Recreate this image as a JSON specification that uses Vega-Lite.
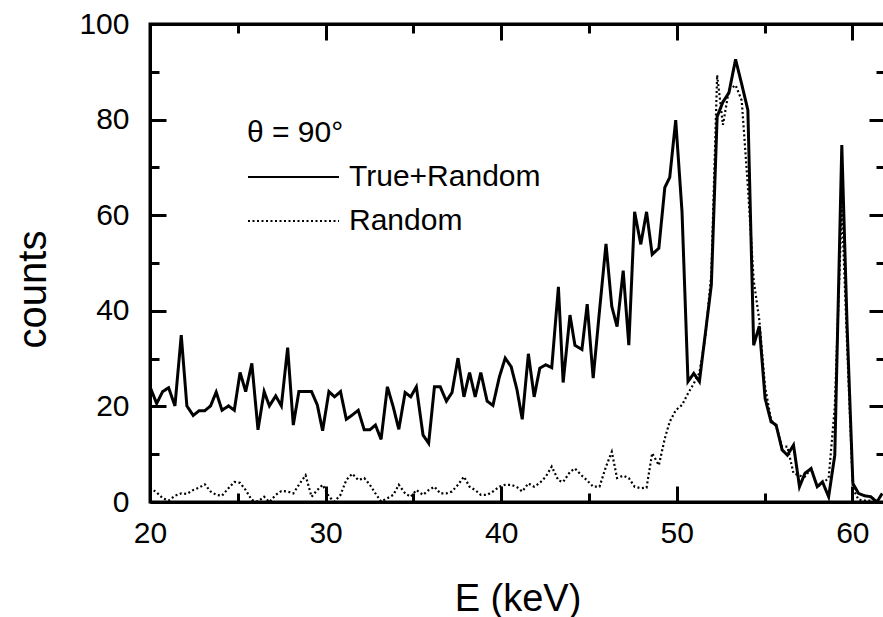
{
  "$schema": "https://vega.github.io/schema/vega-lite/v6.json",
  "autosize": "none",
  "width": 735,
  "height": 478,
  "padding": {"left": 150, "top": 24, "right": 0, "bottom": 115},
  "background": "white",
  "config": {
    "font": "Liberation Sans",
    "view": {"stroke": "#000000", "strokeWidth": 3},
    "axis": {
      "labelColor": "#000000",
      "labelFont": "Liberation Sans",
      "labelFontSize": 30,
      "labelFlush": false,
      "labelOverlap": false,
      "titleColor": "#000000",
      "titleFont": "Liberation Sans",
      "titleFontSize": 38,
      "titleFontWeight": "normal",
      "grid": false
    }
  },
  "data": {
    "values": [
      {"E": 20.0, "counts": 24.1, "series": "True+Random"},
      {"E": 20.38, "counts": 20.6, "series": "True+Random"},
      {"E": 20.72, "counts": 23.1, "series": "True+Random"},
      {"E": 21.06, "counts": 23.9, "series": "True+Random"},
      {"E": 21.42, "counts": 20.1, "series": "True+Random"},
      {"E": 21.78, "counts": 34.9, "series": "True+Random"},
      {"E": 22.1, "counts": 20.1, "series": "True+Random"},
      {"E": 22.46, "counts": 18.1, "series": "True+Random"},
      {"E": 22.8, "counts": 19.1, "series": "True+Random"},
      {"E": 23.12, "counts": 19.1, "series": "True+Random"},
      {"E": 23.45, "counts": 20.1, "series": "True+Random"},
      {"E": 23.77, "counts": 23.0, "series": "True+Random"},
      {"E": 24.1, "counts": 19.2, "series": "True+Random"},
      {"E": 24.47, "counts": 20.1, "series": "True+Random"},
      {"E": 24.8, "counts": 19.2, "series": "True+Random"},
      {"E": 25.13, "counts": 27.1, "series": "True+Random"},
      {"E": 25.45, "counts": 23.1, "series": "True+Random"},
      {"E": 25.8, "counts": 29.0, "series": "True+Random"},
      {"E": 26.15, "counts": 15.1, "series": "True+Random"},
      {"E": 26.5, "counts": 23.1, "series": "True+Random"},
      {"E": 26.8, "counts": 20.1, "series": "True+Random"},
      {"E": 27.16, "counts": 22.2, "series": "True+Random"},
      {"E": 27.48, "counts": 20.1, "series": "True+Random"},
      {"E": 27.84, "counts": 32.3, "series": "True+Random"},
      {"E": 28.16, "counts": 16.1, "series": "True+Random"},
      {"E": 28.48, "counts": 23.1, "series": "True+Random"},
      {"E": 28.86, "counts": 23.1, "series": "True+Random"},
      {"E": 29.2, "counts": 23.1, "series": "True+Random"},
      {"E": 29.53, "counts": 20.3, "series": "True+Random"},
      {"E": 29.83, "counts": 14.9, "series": "True+Random"},
      {"E": 30.19, "counts": 23.1, "series": "True+Random"},
      {"E": 30.51, "counts": 22.0, "series": "True+Random"},
      {"E": 30.85, "counts": 23.1, "series": "True+Random"},
      {"E": 31.18, "counts": 17.3, "series": "True+Random"},
      {"E": 31.52, "counts": 18.2, "series": "True+Random"},
      {"E": 31.86, "counts": 19.2, "series": "True+Random"},
      {"E": 32.2, "counts": 15.1, "series": "True+Random"},
      {"E": 32.52, "counts": 15.1, "series": "True+Random"},
      {"E": 32.84, "counts": 16.1, "series": "True+Random"},
      {"E": 33.16, "counts": 13.1, "series": "True+Random"},
      {"E": 33.52, "counts": 24.1, "series": "True+Random"},
      {"E": 33.86, "counts": 19.8, "series": "True+Random"},
      {"E": 34.17, "counts": 15.2, "series": "True+Random"},
      {"E": 34.53, "counts": 22.9, "series": "True+Random"},
      {"E": 34.85, "counts": 22.0, "series": "True+Random"},
      {"E": 35.17, "counts": 24.1, "series": "True+Random"},
      {"E": 35.55, "counts": 14.0, "series": "True+Random"},
      {"E": 35.87, "counts": 12.3, "series": "True+Random"},
      {"E": 36.2, "counts": 24.1, "series": "True+Random"},
      {"E": 36.53, "counts": 24.1, "series": "True+Random"},
      {"E": 36.88, "counts": 21.1, "series": "True+Random"},
      {"E": 37.2, "counts": 22.9, "series": "True+Random"},
      {"E": 37.54, "counts": 30.1, "series": "True+Random"},
      {"E": 37.88, "counts": 22.0, "series": "True+Random"},
      {"E": 38.2, "counts": 27.1, "series": "True+Random"},
      {"E": 38.52, "counts": 22.0, "series": "True+Random"},
      {"E": 38.84, "counts": 27.1, "series": "True+Random"},
      {"E": 39.2, "counts": 21.1, "series": "True+Random"},
      {"E": 39.53, "counts": 20.2, "series": "True+Random"},
      {"E": 39.9, "counts": 26.2, "series": "True+Random"},
      {"E": 40.23, "counts": 30.1, "series": "True+Random"},
      {"E": 40.57, "counts": 28.3, "series": "True+Random"},
      {"E": 40.9, "counts": 23.5, "series": "True+Random"},
      {"E": 41.2, "counts": 17.3, "series": "True+Random"},
      {"E": 41.55, "counts": 31.0, "series": "True+Random"},
      {"E": 41.88, "counts": 22.0, "series": "True+Random"},
      {"E": 42.2, "counts": 28.0, "series": "True+Random"},
      {"E": 42.54, "counts": 28.7, "series": "True+Random"},
      {"E": 42.88, "counts": 28.1, "series": "True+Random"},
      {"E": 43.26, "counts": 45.0, "series": "True+Random"},
      {"E": 43.53, "counts": 25.0, "series": "True+Random"},
      {"E": 43.92, "counts": 39.1, "series": "True+Random"},
      {"E": 44.2, "counts": 32.8, "series": "True+Random"},
      {"E": 44.6, "counts": 31.9, "series": "True+Random"},
      {"E": 44.9, "counts": 41.4, "series": "True+Random"},
      {"E": 45.24, "counts": 25.9, "series": "True+Random"},
      {"E": 45.6, "counts": 40.0, "series": "True+Random"},
      {"E": 45.97, "counts": 54.0, "series": "True+Random"},
      {"E": 46.3, "counts": 40.9, "series": "True+Random"},
      {"E": 46.6, "counts": 36.7, "series": "True+Random"},
      {"E": 46.95, "counts": 48.4, "series": "True+Random"},
      {"E": 47.27, "counts": 32.8, "series": "True+Random"},
      {"E": 47.6, "counts": 60.7, "series": "True+Random"},
      {"E": 47.95, "counts": 53.9, "series": "True+Random"},
      {"E": 48.28, "counts": 60.7, "series": "True+Random"},
      {"E": 48.6, "counts": 51.8, "series": "True+Random"},
      {"E": 48.98, "counts": 53.1, "series": "True+Random"},
      {"E": 49.32, "counts": 65.8, "series": "True+Random"},
      {"E": 49.6, "counts": 67.9, "series": "True+Random"},
      {"E": 49.94, "counts": 79.9, "series": "True+Random"},
      {"E": 50.3, "counts": 60.7, "series": "True+Random"},
      {"E": 50.64, "counts": 25.2, "series": "True+Random"},
      {"E": 50.97, "counts": 26.9, "series": "True+Random"},
      {"E": 51.29, "counts": 25.2, "series": "True+Random"},
      {"E": 51.63, "counts": 35.3, "series": "True+Random"},
      {"E": 51.97, "counts": 45.4, "series": "True+Random"},
      {"E": 52.3, "counts": 80.6, "series": "True+Random"},
      {"E": 52.63, "counts": 83.7, "series": "True+Random"},
      {"E": 52.97, "counts": 85.6, "series": "True+Random"},
      {"E": 53.35, "counts": 92.6, "series": "True+Random"},
      {"E": 53.7, "counts": 87.4, "series": "True+Random"},
      {"E": 54.05, "counts": 82.0, "series": "True+Random"},
      {"E": 54.38, "counts": 32.8, "series": "True+Random"},
      {"E": 54.7, "counts": 36.8, "series": "True+Random"},
      {"E": 55.03, "counts": 21.7, "series": "True+Random"},
      {"E": 55.37, "counts": 16.8, "series": "True+Random"},
      {"E": 55.66, "counts": 16.1, "series": "True+Random"},
      {"E": 56.0, "counts": 10.9, "series": "True+Random"},
      {"E": 56.3, "counts": 9.8, "series": "True+Random"},
      {"E": 56.65, "counts": 11.9, "series": "True+Random"},
      {"E": 56.99, "counts": 3.2, "series": "True+Random"},
      {"E": 57.3, "counts": 6.0, "series": "True+Random"},
      {"E": 57.65, "counts": 7.0, "series": "True+Random"},
      {"E": 58.0, "counts": 3.2, "series": "True+Random"},
      {"E": 58.3, "counts": 4.2, "series": "True+Random"},
      {"E": 58.65, "counts": 1.1, "series": "True+Random"},
      {"E": 59.0, "counts": 9.8, "series": "True+Random"},
      {"E": 59.4, "counts": 74.7, "series": "True+Random"},
      {"E": 59.7, "counts": 37.0, "series": "True+Random"},
      {"E": 60.03, "counts": 3.9, "series": "True+Random"},
      {"E": 60.35, "counts": 1.8, "series": "True+Random"},
      {"E": 60.7, "counts": 1.3, "series": "True+Random"},
      {"E": 61.05, "counts": 1.1, "series": "True+Random"},
      {"E": 61.4, "counts": 0.0, "series": "True+Random"},
      {"E": 61.7, "counts": 1.8, "series": "True+Random"},
      {"E": 20.0, "counts": 3.0, "series": "Random"},
      {"E": 20.38, "counts": 2.0, "series": "Random"},
      {"E": 20.72, "counts": 0.8, "series": "Random"},
      {"E": 21.06, "counts": 0.3, "series": "Random"},
      {"E": 21.42, "counts": 1.3, "series": "Random"},
      {"E": 21.78, "counts": 1.8, "series": "Random"},
      {"E": 22.1, "counts": 1.7, "series": "Random"},
      {"E": 22.46, "counts": 2.5, "series": "Random"},
      {"E": 22.8, "counts": 3.0, "series": "Random"},
      {"E": 23.12, "counts": 3.7, "series": "Random"},
      {"E": 23.45, "counts": 2.2, "series": "Random"},
      {"E": 23.77, "counts": 1.5, "series": "Random"},
      {"E": 24.1, "counts": 1.3, "series": "Random"},
      {"E": 24.47, "counts": 2.9, "series": "Random"},
      {"E": 24.8, "counts": 4.2, "series": "Random"},
      {"E": 25.13, "counts": 4.0, "series": "Random"},
      {"E": 25.45, "counts": 2.5, "series": "Random"},
      {"E": 25.8, "counts": 0.4, "series": "Random"},
      {"E": 26.15, "counts": 0.1, "series": "Random"},
      {"E": 26.5, "counts": 1.1, "series": "Random"},
      {"E": 26.8, "counts": 0.0, "series": "Random"},
      {"E": 27.16, "counts": 1.5, "series": "Random"},
      {"E": 27.48, "counts": 2.3, "series": "Random"},
      {"E": 27.84, "counts": 2.2, "series": "Random"},
      {"E": 28.16, "counts": 1.8, "series": "Random"},
      {"E": 28.48, "counts": 3.6, "series": "Random"},
      {"E": 28.86, "counts": 5.6, "series": "Random"},
      {"E": 29.2, "counts": 1.1, "series": "Random"},
      {"E": 29.53, "counts": 2.5, "series": "Random"},
      {"E": 29.83, "counts": 3.6, "series": "Random"},
      {"E": 30.19, "counts": 1.1, "series": "Random"},
      {"E": 30.51, "counts": 0.1, "series": "Random"},
      {"E": 30.85, "counts": 1.5, "series": "Random"},
      {"E": 31.18, "counts": 4.6, "series": "Random"},
      {"E": 31.52, "counts": 5.9, "series": "Random"},
      {"E": 31.86, "counts": 4.6, "series": "Random"},
      {"E": 32.2, "counts": 5.0, "series": "Random"},
      {"E": 32.52, "counts": 3.6, "series": "Random"},
      {"E": 32.84, "counts": 1.8, "series": "Random"},
      {"E": 33.16, "counts": 0.1, "series": "Random"},
      {"E": 33.52, "counts": 0.8, "series": "Random"},
      {"E": 33.86, "counts": 1.5, "series": "Random"},
      {"E": 34.17, "counts": 3.6, "series": "Random"},
      {"E": 34.53, "counts": 1.8, "series": "Random"},
      {"E": 34.85, "counts": 1.1, "series": "Random"},
      {"E": 35.17, "counts": 2.5, "series": "Random"},
      {"E": 35.55, "counts": 1.5, "series": "Random"},
      {"E": 35.87, "counts": 2.5, "series": "Random"},
      {"E": 36.2, "counts": 3.2, "series": "Random"},
      {"E": 36.53, "counts": 1.8, "series": "Random"},
      {"E": 36.88, "counts": 1.8, "series": "Random"},
      {"E": 37.2, "counts": 2.2, "series": "Random"},
      {"E": 37.54, "counts": 3.6, "series": "Random"},
      {"E": 37.88, "counts": 5.3, "series": "Random"},
      {"E": 38.2, "counts": 3.2, "series": "Random"},
      {"E": 38.52, "counts": 2.5, "series": "Random"},
      {"E": 38.84, "counts": 1.5, "series": "Random"},
      {"E": 39.2, "counts": 1.5, "series": "Random"},
      {"E": 39.53, "counts": 2.2, "series": "Random"},
      {"E": 39.9, "counts": 3.2, "series": "Random"},
      {"E": 40.23, "counts": 3.6, "series": "Random"},
      {"E": 40.57, "counts": 3.6, "series": "Random"},
      {"E": 40.9, "counts": 3.1, "series": "Random"},
      {"E": 41.2, "counts": 2.2, "series": "Random"},
      {"E": 41.55, "counts": 3.9, "series": "Random"},
      {"E": 41.88, "counts": 3.2, "series": "Random"},
      {"E": 42.2, "counts": 4.0, "series": "Random"},
      {"E": 42.54, "counts": 5.3, "series": "Random"},
      {"E": 42.88, "counts": 7.4, "series": "Random"},
      {"E": 43.26, "counts": 4.5, "series": "Random"},
      {"E": 43.53, "counts": 4.2, "series": "Random"},
      {"E": 43.92, "counts": 6.3, "series": "Random"},
      {"E": 44.2, "counts": 7.0, "series": "Random"},
      {"E": 44.6, "counts": 5.5, "series": "Random"},
      {"E": 44.9, "counts": 4.5, "series": "Random"},
      {"E": 45.24, "counts": 3.2, "series": "Random"},
      {"E": 45.6, "counts": 3.2, "series": "Random"},
      {"E": 45.97, "counts": 7.4, "series": "Random"},
      {"E": 46.3, "counts": 10.5, "series": "Random"},
      {"E": 46.6, "counts": 5.0, "series": "Random"},
      {"E": 46.95, "counts": 5.5, "series": "Random"},
      {"E": 47.27, "counts": 5.0, "series": "Random"},
      {"E": 47.6, "counts": 3.2, "series": "Random"},
      {"E": 47.95, "counts": 2.9, "series": "Random"},
      {"E": 48.28, "counts": 3.0, "series": "Random"},
      {"E": 48.6, "counts": 10.2, "series": "Random"},
      {"E": 48.98, "counts": 7.7, "series": "Random"},
      {"E": 49.32, "counts": 13.3, "series": "Random"},
      {"E": 49.6, "counts": 16.8, "series": "Random"},
      {"E": 49.94, "counts": 19.2, "series": "Random"},
      {"E": 50.3, "counts": 20.3, "series": "Random"},
      {"E": 50.64, "counts": 22.7, "series": "Random"},
      {"E": 50.97, "counts": 24.8, "series": "Random"},
      {"E": 51.29, "counts": 27.0, "series": "Random"},
      {"E": 51.63, "counts": 34.6, "series": "Random"},
      {"E": 51.97, "counts": 47.8, "series": "Random"},
      {"E": 52.3, "counts": 89.3, "series": "Random"},
      {"E": 52.63, "counts": 78.9, "series": "Random"},
      {"E": 52.97, "counts": 86.2, "series": "Random"},
      {"E": 53.35, "counts": 87.2, "series": "Random"},
      {"E": 53.7, "counts": 84.0, "series": "Random"},
      {"E": 54.05, "counts": 66.0, "series": "Random"},
      {"E": 54.38, "counts": 46.4, "series": "Random"},
      {"E": 54.7, "counts": 38.1, "series": "Random"},
      {"E": 55.03, "counts": 24.1, "series": "Random"},
      {"E": 55.37, "counts": 17.2, "series": "Random"},
      {"E": 55.66, "counts": 15.8, "series": "Random"},
      {"E": 56.0, "counts": 11.6, "series": "Random"},
      {"E": 56.3, "counts": 11.6, "series": "Random"},
      {"E": 56.65, "counts": 6.0, "series": "Random"},
      {"E": 56.99, "counts": 5.5, "series": "Random"},
      {"E": 57.3, "counts": 5.3, "series": "Random"},
      {"E": 57.65, "counts": 7.0, "series": "Random"},
      {"E": 58.0, "counts": 3.2, "series": "Random"},
      {"E": 58.3, "counts": 3.9, "series": "Random"},
      {"E": 58.65, "counts": 5.0, "series": "Random"},
      {"E": 59.0, "counts": 19.9, "series": "Random"},
      {"E": 59.4, "counts": 61.8, "series": "Random"},
      {"E": 59.7, "counts": 33.0, "series": "Random"},
      {"E": 60.03, "counts": 2.9, "series": "Random"},
      {"E": 60.35, "counts": 0.5, "series": "Random"},
      {"E": 60.7, "counts": 0.3, "series": "Random"},
      {"E": 61.05, "counts": 0.3, "series": "Random"},
      {"E": 61.4, "counts": 0.0, "series": "Random"},
      {"E": 61.7, "counts": 0.0, "series": "Random"}
    ]
  },
  "resolve": {"axis": {"x": "independent", "y": "independent"}},
  "layer": [
    {
      "transform": [{"filter": "datum.series === 'True+Random'"}],
      "mark": {"type": "line", "color": "#000000", "strokeWidth": 3, "clip": true},
      "encoding": {
        "x": {
          "field": "E", "type": "quantitative",
          "scale": {"domain": [20, 61.86], "nice": false, "zero": false},
          "axis": {
            "orient": "bottom",
            "domainColor": "#000000",
            "domainWidth": 3,
            "values": [20, 25, 30, 35, 40, 45, 50, 55, 60],
            "labelExpr": "datum.value % 10 === 0 ? datum.label : ''",
            "tickColor": "#000000",
            "tickWidth": 3,
            "tickSize": {"condition": {"test": "datum.value % 10 === 0", "value": -16}, "value": -9},
            "labelPadding": 32,
            "title": "E (keV)",
            "titleY": 108,
            "titleBaseline": "alphabetic"
          }
        },
        "y": {
          "field": "counts", "type": "quantitative",
          "scale": {"domain": [0, 100], "nice": false},
          "axis": {
            "orient": "left",
            "domainColor": "#000000",
            "domainWidth": 3,
            "values": [0, 10, 20, 30, 40, 50, 60, 70, 80, 90, 100],
            "labelExpr": "datum.value % 20 === 0 ? datum.label : ''",
            "tickColor": "#000000",
            "tickWidth": 3,
            "tickSize": {"condition": {"test": "datum.value % 20 === 0", "value": -16}, "value": -9},
            "labelPadding": 37,
            "title": "counts",
            "titleFontSize": 40,
            "titleX": -105,
            "titleY": 265,
            "titleBaseline": "alphabetic"
          }
        },
        "strokeDash": {
          "field": "series", "type": "nominal",
          "scale": {"domain": ["True+Random", "Random"], "range": [[1, 0], [2, 2.5]]},
          "legend": {
            "orient": "none",
            "legendX": 97,
            "legendY": 94,
            "title": "θ = 90°",
            "titleFontSize": 30,
            "titleFontWeight": "normal",
            "titleColor": "#000000",
            "titlePadding": 8,
            "titleLimit": 0,
            "labelFontSize": 30,
            "labelColor": "#000000",
            "labelLimit": 0,
            "labelOffset": 60,
            "symbolType": "M-1,0H3.55",
            "symbolSize": 1600,
            "symbolStrokeWidth": 2,
            "symbolStrokeColor": "#000000",
            "symbolFillColor": "transparent",
            "rowPadding": 8
          }
        }
      }
    },
    {
      "transform": [{"filter": "datum.series === 'Random'"}],
      "mark": {"type": "line", "color": "#000000", "strokeWidth": 2.2, "clip": true},
      "encoding": {
        "x": {
          "field": "E", "type": "quantitative",
          "axis": {
            "orient": "top",
            "domainColor": "#000000",
            "domainWidth": 3,
            "values": [20, 25, 30, 35, 40, 45, 50, 55, 60],
            "labels": false,
            "tickColor": "#000000",
            "tickWidth": 3,
            "tickSize": {"condition": {"test": "datum.value % 10 === 0", "value": -16}, "value": -9},
            "title": null
          }
        },
        "y": {
          "field": "counts", "type": "quantitative",
          "axis": {
            "orient": "right",
            "domainColor": "#000000",
            "domainWidth": 3,
            "values": [0, 10, 20, 30, 40, 50, 60, 70, 80, 90, 100],
            "labels": false,
            "tickColor": "#000000",
            "tickWidth": 3,
            "tickSize": {"condition": {"test": "datum.value % 20 === 0", "value": -16}, "value": -9},
            "title": null
          }
        },
        "strokeDash": {"field": "series", "type": "nominal"}
      }
    }
  ]
}
